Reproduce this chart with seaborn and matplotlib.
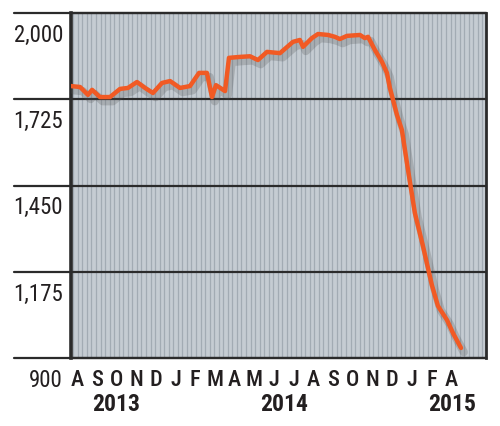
import numpy as np
import pandas as pd
import matplotlib
matplotlib.use("Agg")
import matplotlib.pyplot as plt
import matplotlib.patheffects as pe
import seaborn as sns

# Données (x = mois depuis début août 2013)
months_x = [0.00, 0.46, 0.86, 1.07, 1.47, 1.98, 2.49, 2.89, 3.35, 3.76,
            4.16, 4.62, 5.03, 5.53, 6.04, 6.50, 6.90, 7.16, 7.36, 7.82,
            8.02, 8.58, 9.09, 9.49, 9.95, 10.61, 11.27, 11.62, 11.78, 12.23,
            12.54, 13.05, 13.40, 13.65, 14.01, 14.67, 14.92, 15.08, 15.43, 15.79,
            16.04, 16.19, 16.35, 16.55, 16.80, 17.11, 17.46, 17.87, 18.32, 18.63,
            19.09, 19.39, 19.80]
values = [1767, 1764, 1739, 1755, 1732, 1732, 1758, 1761, 1780, 1761,
          1745, 1777, 1783, 1761, 1767, 1809, 1809, 1732, 1770, 1751,
          1857, 1860, 1862, 1850, 1876, 1872, 1908, 1914, 1892, 1920,
          1933, 1930, 1924, 1917, 1927, 1930, 1920, 1924, 1882, 1844,
          1809, 1761, 1723, 1675, 1627, 1500, 1362, 1257, 1133, 1066,
          1021, 980, 932]

month_labels = ['A', 'S', 'O', 'N', 'D', 'J', 'F', 'M', 'A', 'M',
                'J', 'J', 'A', 'S', 'O', 'N', 'D', 'J', 'F', 'A']
year_labels = ['2013', '2014', '2015']
year_x = [2.28, 10.81, 19.34]
y_ticks = [900, 1175, 1450, 1725, 2000]

df = pd.DataFrame({'mois': months_x, 'valeur': values})

sns.set_style("white")
plt.rcParams['font.family'] = ['Roboto Condensed', 'DejaVu Sans']

fig = plt.figure(figsize=(5, 4.26), dpi=100)
ax = fig.add_axes([0.142, 0.1596, 0.83, 0.8099])

x_max = 21.07
ax.set_xlim(0, x_max)
ax.set_ylim(900, 2000)
ax.set_facecolor('#c5ccd2')

# Rayures verticales (une par semaine)
step = 12 / 52
ax.vlines(np.arange(step / 2, x_max, step), 900, 2000, color='#a2abb3', lw=0.9, zorder=0)

# Lignes horizontales, prolongées sous les étiquettes
for v in y_ticks:
    ax.plot([-0.137, 1], [v, v], transform=ax.get_yaxis_transform(),
            color='#2b2b2b', lw=1.6, clip_on=False, zorder=1)
    ax.text(-0.019, v - 92, f'{v:,}', transform=ax.get_yaxis_transform(),
            ha='right', va='baseline', fontsize=16.5, color='#231f20')

sns.lineplot(data=df, x='mois', y='valeur', ax=ax, color='#f15a24', lw=3.2, zorder=3)
ax.lines[-1].set_path_effects([
    pe.SimpleLineShadow(offset=(2, -3), shadow_color='#555555', alpha=0.25, linewidth=6),
    pe.Normal()])
ax.lines[-1].set_solid_capstyle('round')

# Mois et années
for i, m in enumerate(month_labels):
    ax.text(0.3 + i, -0.081, m, transform=ax.get_xaxis_transform(),
            ha='center', va='baseline', fontsize=16, fontweight='medium', color='#231f20')
for x, yr in zip(year_x, year_labels):
    ax.text(x, -0.154, yr, transform=ax.get_xaxis_transform(),
            ha='center', va='baseline', fontsize=17, fontweight='bold', color='#231f20')

ax.set_xticks([])
ax.set_yticks([])
ax.set_xlabel('')
ax.set_ylabel('')
for side in ['left', 'right', 'bottom', 'top']:
    ax.spines[side].set_visible(True)
    ax.spines[side].set_color('#2b2b2b')
ax.spines['left'].set_linewidth(2.6)
ax.spines['right'].set_linewidth(2.0)
ax.spines['bottom'].set_linewidth(1.6)
ax.spines['top'].set_linewidth(1.6)

plt.savefig('out.png', dpi=100)
